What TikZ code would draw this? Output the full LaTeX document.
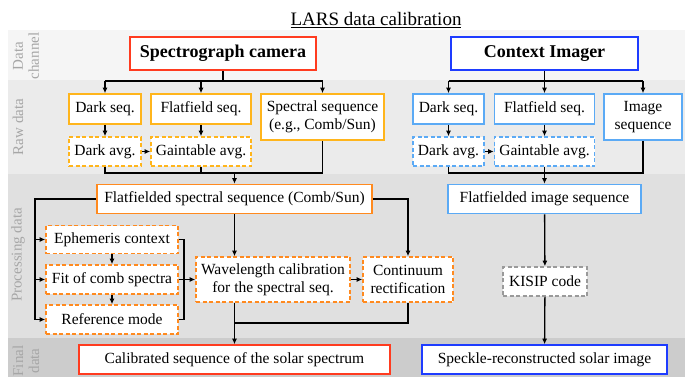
\documentclass[tikz,border=0pt]{standalone}
\usepackage{fontspec}
\setmainfont{Liberation Serif}
\newfontfamily\serifbox{Liberation Serif}
\usetikzlibrary{arrows.meta}
\definecolor{cred}{HTML}{FF3B1F}
\definecolor{cyel}{HTML}{FFB51C}
\definecolor{corg}{HTML}{FF8A1F}
\definecolor{cblu}{HTML}{1E3CFF}
\definecolor{clbl}{HTML}{5BAAF5}
\definecolor{cgry}{HTML}{9A9A9A}
\definecolor{bandA}{HTML}{F5F5F5}
\definecolor{bandB}{HTML}{EBEBEB}
\definecolor{bandC}{HTML}{E0E0E0}
\definecolor{bandD}{HTML}{CCCCCC}
\definecolor{lbltxt}{HTML}{A6A6A6}
\begin{document}
\begin{tikzpicture}[x=1pt,y=-1pt,
  box/.style={draw, line width=1.6pt, fill=white, inner sep=0pt, align=center,
    font=\serifbox\fontsize{15.5}{18}\selectfont},
  dbox/.style={box, dash pattern=on 4pt off 2.5pt},
  head/.style={box, font=\serifbox\fontsize{18}{21}\selectfont\bfseries},
  ln/.style={line width=1.3pt, black},
  arr/.style={ln, -{Latex[length=5.5pt,width=5pt]}},
  side/.style={rotate=90, text=lbltxt, align=center, font=\serifbox\fontsize{15}{16}\selectfont}]
\useasboundingbox (0,0) rectangle (685,377);

% horizontal bands
\fill[bandA] (8,30) rectangle (685,80);
\fill[bandB] (8,80) rectangle (685,174);
\fill[bandC] (8,174) rectangle (685,338);
\fill[bandD] (8,338) rectangle (685,377);

% band labels
\node[side] (lab1) at (26,56) {Data\\channel};
\node[side] (lab2) at (18,127) {Raw data};
\node[side] (lab3) at (18,255) {Processing data};
\node[side] (lab4) at (26,361) {Final\\data};

% title
\node[font=\serifbox\fontsize{19}{21}\selectfont] (title) at (376,20) {\underline{LARS data calibration}};

% data channels
\node[head, draw=cred, minimum width=186pt, minimum height=33pt] (spc) at (223,53.5) {Spectrograph camera};
\node[head, draw=cblu, minimum width=187pt, minimum height=33pt] (ctx) at (544.5,53.5) {Context Imager};

% raw data, spectrograph
\node[box, draw=cyel, minimum width=72pt, minimum height=30pt] (dsL) at (105,109) {Dark seq.};
\node[box, draw=cyel, minimum width=100pt, minimum height=30pt] (fsL) at (201,109) {Flatfield seq.};
\node[box, draw=cyel, minimum width=123pt, minimum height=46pt] (sqL) at (322.5,117) {Spectral sequence\\(e.g., Comb/Sun)};
\node[dbox, draw=cyel, minimum width=72pt, minimum height=29pt] (daL) at (105,151.5) {Dark avg.};
\node[dbox, draw=cyel, minimum width=100pt, minimum height=29pt] (gaL) at (201,151.5) {Gaintable avg.};

% raw data, context imager
\node[box, draw=clbl, minimum width=71pt, minimum height=30pt] (dsR) at (448.5,109) {Dark seq.};
\node[box, draw=clbl, minimum width=100pt, minimum height=30pt] (fsR) at (544.5,109) {Flatfield seq.};
\node[box, draw=clbl, minimum width=78pt, minimum height=46pt] (imR) at (643,117) {Image\\sequence};
\node[dbox, draw=clbl, minimum width=71pt, minimum height=29pt] (daR) at (448.5,151.5) {Dark avg.};
\node[dbox, draw=clbl, minimum width=100pt, minimum height=29pt] (gaR) at (544.5,151.5) {Gaintable avg.};

% processing
\node[box, draw=corg, minimum width=275pt, minimum height=29pt] (ffs) at (234.5,199) {Flatfielded spectral sequence (Comb/Sun)};
\node[box, draw=clbl, minimum width=193pt, minimum height=29pt] (ffi) at (544.5,199) {Flatfielded image sequence};
\node[dbox, draw=corg, minimum width=132pt, minimum height=28pt] (eph) at (112,239.5) {Ephemeris context};
\node[dbox, draw=corg, minimum width=132pt, minimum height=29pt] (fit) at (112,279.5) {Fit of comb spectra};
\node[dbox, draw=corg, minimum width=132pt, minimum height=29pt] (ref) at (112,319.5) {Reference mode};
\node[dbox, draw=corg, minimum width=154pt, minimum height=45pt] (wav) at (273,279.5) {Wavelength calibration\\for the spectral seq.};
\node[dbox, draw=corg, minimum width=90pt, minimum height=45pt] (con) at (408,279.5) {Continuum\\rectification};
\node[dbox, draw=cgry, minimum width=84pt, minimum height=29pt] (kis) at (545,281.5) {KISIP code};

% final data
\node[box, draw=cred, minimum width=311pt, minimum height=29pt] (cal) at (234.5,359.5) {Calibrated sequence of the solar spectrum};
\node[box, draw=cblu, minimum width=245pt, minimum height=29pt] (spk) at (544.5,359.5) {Speckle-reconstructed solar image};

% helper rows and columns
\coordinate (r1) at (0,81);
\coordinate (r2) at (0,173);
\coordinate (r3) at (0,323);
\coordinate (lx) at (35,0);
\coordinate (bx) at (184,0);

% spectrograph raw data
\draw[ln] (spc.south) -- (spc.south |- r1);
\draw[ln] (dsL.north |- r1) -- (sqL.north |- r1);
\draw[arr] (dsL.north |- r1) -- (dsL.north);
\draw[arr] (fsL.north |- r1) -- (fsL.north);
\draw[arr] (sqL.north |- r1) -- (sqL.north);
\draw[arr] (dsL) -- (daL);
\draw[arr] (fsL) -- (gaL);
\draw[arr] (daL) -- (gaL);
\draw[ln] (daL.south) -- (daL.south |- r2) -- (sqL.south |- r2) -- (sqL.south);
\draw[ln] (gaL.south) -- (gaL.south |- r2);
\draw[arr] (ffs.north |- r2) -- (ffs.north);

% context imager raw data
\draw[ln] (ctx.south) -- (ctx.south |- r1);
\draw[ln] (dsR.north |- r1) -- (imR.north |- r1);
\draw[arr] (dsR.north |- r1) -- (dsR.north);
\draw[arr] (fsR.north |- r1) -- (fsR.north);
\draw[arr] (imR.north |- r1) -- (imR.north);
\draw[arr] (dsR) -- (daR);
\draw[arr] (fsR) -- (gaR);
\draw[arr] (daR) -- (gaR);
\draw[ln] (daR.south) -- (daR.south |- r2) -- (imR.south |- r2) -- (imR.south);
\draw[ln] (gaR.south) -- (gaR.south |- r2);
\draw[arr] (ffi.north |- r2) -- (ffi.north);

% spectral processing
\draw[ln] (ffs.west) -- (ffs.west -| lx) -- (ref.west -| lx);
\draw[arr] (eph.west -| lx) -- (eph.west);
\draw[arr] (fit.west -| lx) -- (fit.west);
\draw[arr] (ref.west -| lx) -- (ref.west);
\draw[arr] (eph) -- (fit);
\draw[arr] (fit) -- (ref);
\draw[ln] (eph.east) -- (eph.east -| bx) -- (ref.east -| bx) -- (ref.east);
\draw[arr] (fit.east) -- (wav.west);
\draw[arr] (ffs.south) -- (ffs.south |- wav.north);
\draw[arr] (ffs.east) -| (con.north);
\draw[arr] (wav.east) -- (con.west);
\draw[arr] (ffs.south |- wav.south) -- (cal.north);
\draw[ln] (con.south) -- (con.south |- r3) -- (cal.north |- r3);

% image processing
\draw[arr] (ffi) -- (kis);
\draw[arr] (kis) -- (spk);
\end{tikzpicture}
\end{document}
